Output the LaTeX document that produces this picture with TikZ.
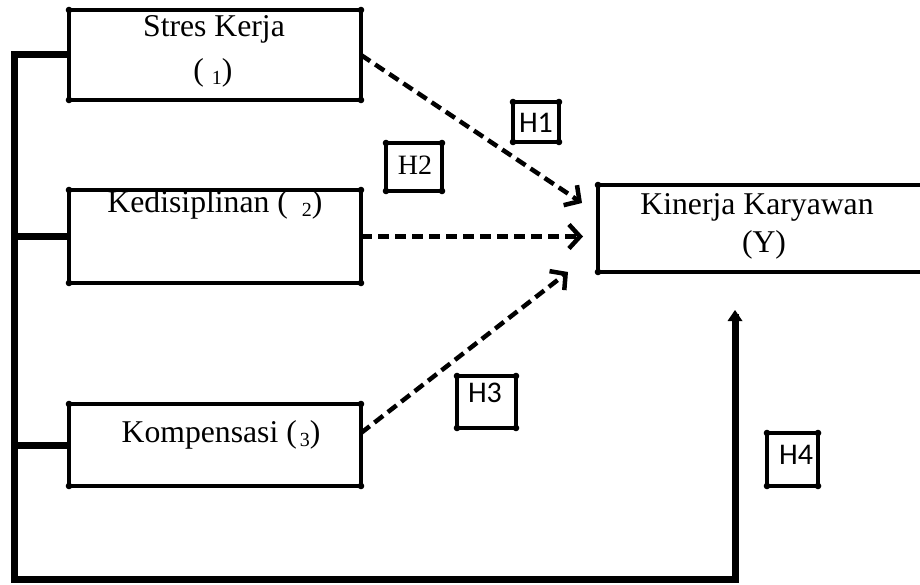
\documentclass[tikz,border=0pt]{standalone}
\usepackage{fontspec}
\setmainfont{Liberation Serif}
\newfontfamily\hsans{Carlito}
\usetikzlibrary{arrows.meta}
\newcommand{\sbd}[1]{\raisebox{-4pt}{\fontsize{20}{20}\selectfont #1}}
\begin{document}
\begin{tikzpicture}[x=1pt,y=-1pt,
  box/.style={draw, rectangle, line width=4.2pt, inner sep=0pt, outer sep=0pt},
  txt/.style={inner sep=0pt, anchor=base, font=\fontsize{31.7}{38}\selectfont},
  hsf/.style={inner sep=0pt, anchor=base, font=\hsans\fontsize{30}{36}\selectfont},
  hsr/.style={inner sep=0pt, anchor=base, font=\fontsize{28}{34}\selectfont},
  bus/.style={line width=7pt, line join=miter},
  dasharrow/.style={line width=4.5pt, dash pattern=on 11pt off 6pt,
    -{Straight Barb[length=11pt,width=24pt,line width=4.5pt]}},
  dot/.style={fill=black}
]
\useasboundingbox (0,0) rectangle (920,585);

% variable boxes
\node[box, minimum width=292pt, minimum height=90pt] (b1) at (215,55) {};
\node[box, minimum width=292pt, minimum height=93pt] (b2) at (215,236.5) {};
\node[box, minimum width=292pt, minimum height=82pt] (b3) at (215,445) {};
\begin{scope}
  \clip (0,0) rectangle (920,585);
  \node[box, minimum width=342pt, minimum height=87pt] (y) at (769,228.5) {};
\end{scope}

% hypothesis boxes
\node[box, minimum width=46pt, minimum height=40pt] (h1) at (536,122) {};
\node[box, minimum width=56pt, minimum height=48pt] (h2) at (414,167) {};
\node[box, minimum width=59pt, minimum height=52pt] (h3) at (486.5,402) {};
\node[box, minimum width=51pt, minimum height=53pt] (h4) at (792.5,459.5) {};

% corner dots
\foreach \n in {b1,b2,b3,h1,h2,h3,h4}{
  \foreach \c in {north west,north east,south west,south east}{
    \fill[dot] (\n.\c) circle (3.3pt);
  }
}
\fill[dot] (y.north west) circle (3.3pt);
\fill[dot] (y.south west) circle (3.3pt);

% texts
\node[txt] (t1a) at (214,37) {Stres Kerja};
\node[txt] (t1b) at (213,81) {( \sbd{1})};
\node[txt] (t2) at (215,213) {Kedisiplinan (\hspace{14pt}\sbd{2})};
\node[txt] (t3) at (221,442) {Kompensasi (\hspace{3pt}\sbd{3})};
\node[txt] (ty1) at (757,215) {Kinerja Karyawan};
\node[txt] (ty2) at (764,252) {(Y)};
\node[hsf] (l1) at (536,133) {H1};
\node[hsr] (l2) at (415,175) {H2};
\node[hsf] (l3) at (485,402) {H3};
\node[hsf] (l4) at (796,464) {H4};

% connector coordinates
\coordinate (bb) at (14,579);
\coordinate (br) at (735,579);
\coordinate (h4tip) at (735,314);
\coordinate (tip1) at (582,203);
\coordinate (tip2) at (583,236.5);
\coordinate (s3) at (361,433);
\coordinate (tip3) at (568,272);

% left bus and H4 line
\draw[bus] (b1.west) -- (b1.west -| bb) -- (bb) -- (br) -- (h4tip);
\fill (h4tip) ++(0,-4) -- ++(7.5,11) -- ++(-15,0) -- cycle;
\draw[bus] (b2.west) -- (b2.west -| bb);
\draw[bus] (b3.west) -- (b3.west -| bb);

% dashed arrows
\draw[dasharrow] (b1.east) -- (tip1);
\draw[dasharrow] (b2.east) -- (tip2);
\draw[dasharrow] (s3) -- (tip3);
\end{tikzpicture}
\end{document}
